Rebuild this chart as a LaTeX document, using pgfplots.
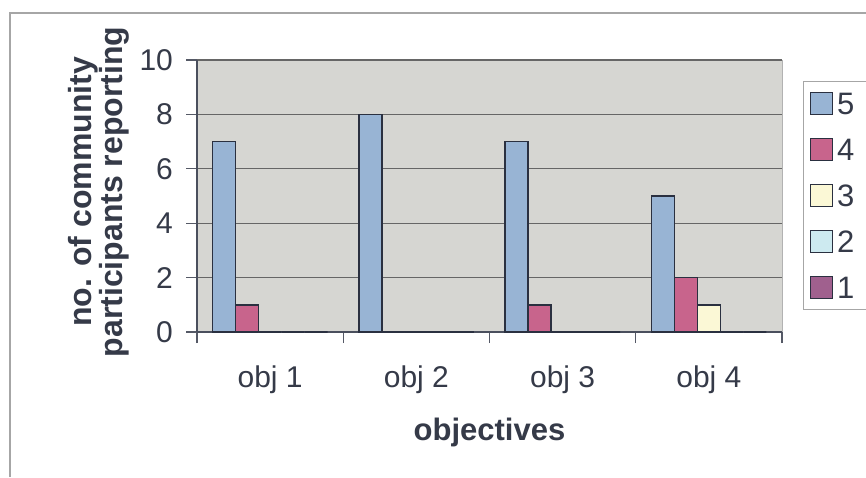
\documentclass[border=0pt]{standalone}
\usepackage{fontspec}
\setmainfont{Liberation Sans}
\usepackage{pgfplots}
\pgfplotsset{compat=1.18}

\definecolor{txt}{HTML}{353A48}
\definecolor{plotbg}{HTML}{D6D6D2}
\definecolor{barline}{HTML}{2A3040}
\definecolor{sfive}{HTML}{98B4D4}
\definecolor{sfour}{HTML}{C8648C}
\definecolor{sthree}{HTML}{FBF8D6}
\definecolor{stwo}{HTML}{CDEAF0}
\definecolor{sone}{HTML}{A0608E}

\begin{document}
\begin{tikzpicture}
\path[use as bounding box] (0,0) rectangle (433pt,238.5pt);
% outer chart frame (left and top edges only, rest is cut off in the scan)
\draw[gray!70, line width=0.8pt] (5pt,0) -- (5pt,232pt) -- (433pt,232pt);

\begin{axis}[
    at={(98.5pt,72.5pt)}, anchor=south west,
    scale only axis, width=292.5pt, height=136pt,
    ybar=0pt, bar width=11.5pt,
    legend image code/.code={\draw[#1, draw=barline, line width=0.8pt] (0pt,-5.5pt) rectangle (11pt,5.5pt);},
    xmin=0.5, xmax=4.5, ymin=0, ymax=10,
    xtick={0.5,1.5,2.5,3.5,4.5},
    x tick label as interval,
    xticklabels={obj 1, obj 2, obj 3, obj 4},
    ytick={0,2,4,6,8,10},
    tick align=outside, major tick length=5.5pt,
    tick style={draw=barline!80, line width=0.6pt},
    axis x line*=bottom, axis y line*=left,
    axis line style={draw=barline!85, line width=0.7pt},
    axis background/.style={fill=plotbg, draw=gray!60},
    ymajorgrids, grid style={draw=black!60, line width=0.6pt},
    /pgf/number format/assume math mode=true,
    tick label style={font=\fontsize{15}{16}\selectfont, text=txt},
    xticklabel style={yshift=-8pt},
    yticklabel style={xshift=-3pt},
    xlabel={objectives},
    xlabel style={at={(axis description cs:0.5,-0.368)}, anchor=center,
        font=\fontsize{15.5}{16}\selectfont\bfseries, text=txt},
    ylabel={no. of community\\participants reporting},
    ylabel style={at={(axis description cs:-0.1675,0.515)}, anchor=center,
        align=center, font=\fontsize{16}{15.5}\selectfont\bfseries, text=txt},
    legend style={at={(1.0359,0.9228)}, anchor=north west,
        draw=gray!70, line width=0.6pt, fill=white,
        inner xsep=3pt, inner ysep=3.5pt, row sep=8pt,
        font=\fontsize{15.5}{16}\selectfont, text=txt,
        nodes={text height=11pt, text depth=0pt, inner sep=2pt},
        cells={anchor=west}},
]
\addplot[fill=sfive, draw=barline, line width=0.8pt] coordinates {(1,7) (2,8) (3,7) (4,5)};
\addplot[fill=sfour, draw=barline, line width=0.8pt] coordinates {(1,1) (2,0) (3,1) (4,2)};
\addplot[fill=sthree, draw=barline, line width=0.8pt] coordinates {(1,0) (2,0) (3,0) (4,1)};
\addplot[fill=stwo, draw=barline, line width=0.8pt] coordinates {(1,0) (2,0) (3,0) (4,0)};
\addplot[fill=sone, draw=barline, line width=0.8pt] coordinates {(1,0) (2,0) (3,0) (4,0)};
\legend{\makebox[24pt][l]{5}, \makebox[24pt][l]{4}, \makebox[24pt][l]{3}, \makebox[24pt][l]{2}, \makebox[24pt][l]{1}}
\end{axis}
\end{tikzpicture}
\end{document}
